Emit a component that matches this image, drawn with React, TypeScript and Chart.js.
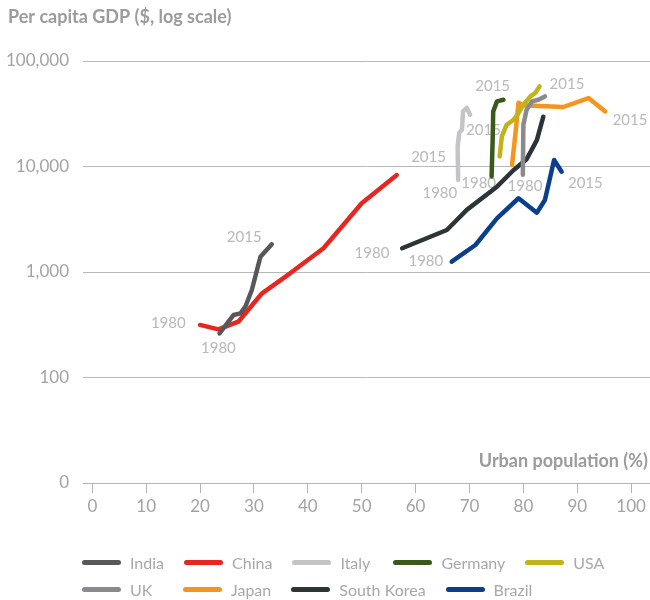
import React, { useEffect, useRef } from 'react';
import { Chart, registerables } from 'chart.js';

Chart.register(...registerables);

// ---- Data (urban population %, per capita GDP $) ----
const seriesNames = ['India', 'China', 'Italy', 'Germany', 'USA', 'UK', 'Japan', 'South Korea', 'Brazil'];
const seriesColors = ['#58585a', '#e8251f', '#c4c4c6', '#3a5a1c', '#c0b41a', '#8a8a8c', '#f7941e', '#2b3538', '#0b3f8c'];

const indiaX = [23.6, 26.2, 27.5, 28.4, 29.6, 31.2, 31.8, 33.3];
const indiaY = [262, 391, 405, 469, 675, 1396, 1504, 1832];

const chinaX = [20.0, 23.4, 27.1, 31.5, 36.7, 42.9, 50.0, 56.5];
const chinaY = [315, 286, 338, 628, 972, 1678, 4480, 8300];

const italyX = [67.9, 67.8, 68.1, 68.6, 68.8, 69.5, 70.1];
const italyY = [7500, 15520, 20900, 22330, 33270, 35890, 30970];

const germanyX = [74.1, 74.3, 74.4, 75.1, 76.3];
const germanyY = [8054, 17950, 33270, 41400, 42960];

const usaX = [75.6, 76.0, 76.9, 78.2, 79.1, 80.0, 81.3, 82.2, 83.0];
const usaY = [12470, 19280, 24890, 27760, 32140, 38550, 46130, 49770, 57450];

const ukX = [79.9, 80.0, 80.6, 81.6, 82.8, 84.0];
const ukY = [8360, 24890, 34510, 41400, 42960, 46130];

const japanX = [77.9, 78.6, 79.1, 79.8, 87.4, 92.1, 95.2];
const japanY = [10400, 22330, 40270, 38110, 36640, 44570, 33270];

const koreaX = [57.5, 65.8, 69.5, 75.1, 78.2, 80.6, 82.5, 83.7];
const koreaY = [1678, 2500, 3880, 6440, 9270, 11700, 17800, 29650];

const brazilX = [66.7, 71.1, 75.1, 79.1, 82.5, 84.0, 85.7, 87.1];
const brazilY = [1253, 1803, 3228, 5000, 3650, 4810, 11530, 8930];

const seriesX = [indiaX, chinaX, italyX, germanyX, usaX, ukX, japanX, koreaX, brazilX];
const seriesY = [indiaY, chinaY, italyY, germanyY, usaY, ukY, japanY, koreaY, brazilY];

// Year labels (text, urban %, GDP)
const yearLabelText = ['1980', '1980', '2015', '1980', '1980', '2015', '1980', '1980', '2015', '2015', '1980', '2015', '2015', '2015'];
const yearLabelX = [14.1, 23.4, 28.2, 51.9, 61.9, 62.4, 64.5, 71.7, 72.6, 74.3, 80.3, 88.1, 99.8, 91.5];
const yearLabelY = [324, 191, 2128, 1514, 1274, 12170, 5560, 6980, 22330, 57450, 6480, 60950, 27350, 6980];

const xTickValues = [0, 10, 20, 30, 40, 50, 60, 70, 80, 90, 100];
const yTickValues = [10, 100, 1000, 10000, 100000];
const yTickLabels = ['0', '100', '1,000', '10,000', '100,000'];

const yTitle = 'Per capita GDP ($, log scale)';
const xTitle = 'Urban population (%)';

const FONT = 'Lato, "Open Sans", sans-serif';

const labelsPlugin = {
  id: 'yearLabelsAndTitles',
  beforeDatasetsDraw(chart: any) {
    const { ctx } = chart;
    const xs = chart.scales.x;
    const ys = chart.scales.y;
    ctx.save();
    ctx.font = `15px ${FONT}`;
    ctx.fillStyle = '#b9b9b9';
    ctx.textAlign = 'center';
    ctx.textBaseline = 'middle';
    yearLabelText.forEach((t, i) => {
      ctx.fillText(t, xs.getPixelForValue(yearLabelX[i]), ys.getPixelForValue(yearLabelY[i]));
    });
    ctx.restore();
  },
  afterDraw(chart: any) {
    const { ctx } = chart;
    ctx.save();
    ctx.font = `bold 18px ${FONT}`;
    ctx.fillStyle = '#9b9b9b';
    ctx.textBaseline = 'middle';
    ctx.textAlign = 'left';
    ctx.fillText(yTitle, 8, 17);
    ctx.textAlign = 'right';
    ctx.fillText(xTitle, 648, 461);
    ctx.restore();
  },
};

export default function App() {
  const canvasRef = useRef<HTMLCanvasElement | null>(null);

  useEffect(() => {
    if (!canvasRef.current) return;
    const datasets = seriesNames.map((name, i) => ({
      label: name,
      data: seriesX[i].map((x, j) => ({ x, y: seriesY[i][j] })),
      borderColor: seriesColors[i],
      backgroundColor: seriesColors[i],
      borderWidth: 4.5,
      borderCapStyle: 'round',
      borderJoinStyle: 'round',
      pointRadius: 0,
      pointHoverRadius: 0,
      showLine: true,
      fill: false,
      tension: 0,
    }));

    const chart = new Chart(canvasRef.current, {
      type: 'scatter',
      data: { datasets } as any,
      options: {
        responsive: false,
        animation: false,
        layout: { padding: { top: 61, left: 0, right: 0, bottom: 0 } },
        plugins: {
          legend: { display: false },
          tooltip: { enabled: false },
          title: { display: false },
        },
        scales: {
          x: {
            type: 'linear',
            min: -1.73,
            max: 103.5,
            afterBuildTicks: (s: any) => {
              s.ticks = xTickValues.map((v) => ({ value: v }));
            },
            afterFit: (s: any) => {
              s.height = 117;
            },
            ticks: {
              autoSkip: false,
              maxRotation: 0,
              color: '#a3a3a3',
              padding: 3,
              font: { family: FONT, size: 17 },
              callback: (v: any) => String(v),
            },
            grid: {
              drawOnChartArea: false,
              drawTicks: true,
              tickLength: 10,
              color: '#b3b3b3',
              lineWidth: 1,
            },
            border: { display: true, color: '#b3b3b3', width: 1 },
          },
          y: {
            type: 'logarithmic',
            min: 10,
            max: 100000,
            afterBuildTicks: (s: any) => {
              s.ticks = yTickValues.map((v) => ({ value: v }));
            },
            afterFit: (s: any) => {
              s.width = 83;
            },
            ticks: {
              autoSkip: false,
              color: '#a3a3a3',
              padding: 14,
              font: { family: FONT, size: 17 },
              callback: (_v: any, i: number) => yTickLabels[i],
            },
            grid: { drawTicks: false, color: '#b8b8b8', lineWidth: 1 },
            border: { display: false },
          },
        },
      } as any,
      plugins: [labelsPlugin],
    });
    return () => chart.destroy();
  }, []);

  return (
    <div style={{ position: 'absolute', left: 0, top: 0, width: 650, height: 600 }}>
      <canvas ref={canvasRef} width={650} height={600} style={{ display: 'block' }} />
      <div
        style={{
          position: 'absolute',
          left: 82,
          top: 549,
          width: 568,
          display: 'flex',
          flexWrap: 'wrap',
          fontFamily: FONT,
          fontSize: 16,
          color: '#a8a8a8',
        }}
      >
        {seriesNames.map((name, i) => (
          <div
            key={name}
            style={{ display: 'flex', alignItems: 'center', height: 27, marginRight: 20, minWidth: 81 }}
          >
            <span
              style={{
                display: 'inline-block',
                width: 39,
                height: 5,
                borderRadius: 3,
                background: seriesColors[i],
                marginRight: 9,
              }}
            />
            <span>{name}</span>
          </div>
        ))}
      </div>
    </div>
  );
}
